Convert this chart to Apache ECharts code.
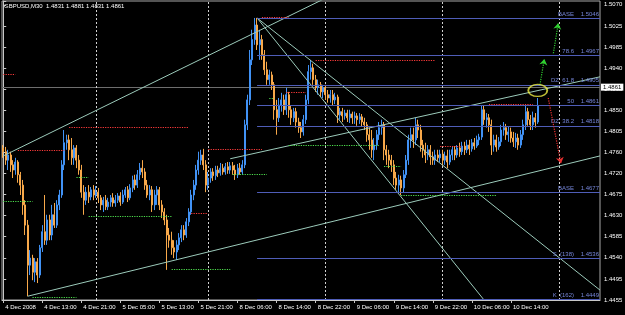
<!DOCTYPE html>
<html>
<head>
<meta charset="utf-8">
<script src="https://cdn.jsdelivr.net/npm/echarts@6/dist/echarts.min.js"></script>
<style>
html,body{margin:0;padding:0;background:#000;}
#main{width:625px;height:315px;}
</style>
</head>
<body>
<div id="main"></div>
<script>
var header = 'GBPUSD,M30  1.4831 1.4881 1.4831 1.4861';

// M30 bars, 4 Dec 05:00 .. 10 Dec 20:30
var opens = [
1.4771,1.4763,1.4745,1.4756,1.4735,1.4724,1.4741,1.4714,1.4692,1.4650,
1.4607,1.4522,1.4537,1.4507,1.4529,1.4501,1.4559,1.4593,1.4575,1.4618,
1.4586,1.4629,1.4607,1.4650,1.4671,1.4735,1.4782,1.4788,1.4767,1.4750,
1.4771,1.4745,1.4724,1.4677,1.4660,1.4677,1.4667,1.4682,1.4671,1.4677,
1.4665,1.4650,1.4660,1.4646,1.4656,1.4665,1.4654,1.4660,1.4669,1.4656,
1.4671,1.4682,1.4665,1.4686,1.4703,1.4692,1.4714,1.4728,1.4720,1.4692,
1.4671,1.4682,1.4650,1.4671,1.4682,1.4650,1.4635,1.4618,1.4586,1.4575,
1.4559,1.4550,1.4565,1.4580,1.4597,1.4586,1.4614,1.4635,1.4671,1.4692,
1.4724,1.4745,1.4756,1.4735,1.4692,1.4707,1.4720,1.4712,1.4724,1.4718,
1.4728,1.4720,1.4731,1.4724,1.4733,1.4724,1.4714,1.4728,1.4720,1.4735,
1.4820,1.4873,1.4958,1.5001,1.5032,1.4990,1.5001,1.4969,1.4937,1.4916,
1.4926,1.4905,1.4852,1.4835,1.4862,1.4873,1.4852,1.4884,1.4852,1.4835,
1.4848,1.4826,1.4814,1.4805,1.4831,1.4873,1.4933,1.4941,1.4916,1.4899,
1.4905,1.4890,1.4899,1.4884,1.4877,1.4884,1.4873,1.4879,1.4841,1.4848,
1.4839,1.4845,1.4835,1.4843,1.4835,1.4839,1.4831,1.4837,1.4826,1.4820,
1.4799,1.4788,1.4767,1.4777,1.4799,1.4814,1.4820,1.4767,1.4756,1.4745,
1.4735,1.4707,1.4692,1.4703,1.4686,1.4714,1.4745,1.4788,1.4799,1.4788,
1.4820,1.4809,1.4777,1.4767,1.4756,1.4767,1.4752,1.4745,1.4756,1.4750,
1.4758,1.4745,1.4754,1.4741,1.4756,1.4767,1.4756,1.4771,1.4763,1.4775,
1.4767,1.4777,1.4769,1.4782,1.4775,1.4788,1.4794,1.4852,1.4831,1.4835,
1.4820,1.4777,1.4788,1.4773,1.4784,1.4809,1.4814,1.4799,1.4805,1.4792,
1.4784,1.4792,1.4777,1.4799,1.4820,1.4848,1.4831,1.4820,1.4835,1.4826
];
var closes = [
1.4763,1.4745,1.4756,1.4735,1.4724,1.4741,1.4714,1.4692,1.4650,1.4607,
1.4522,1.4537,1.4507,1.4529,1.4501,1.4559,1.4593,1.4575,1.4618,1.4586,
1.4629,1.4607,1.4650,1.4671,1.4735,1.4782,1.4788,1.4767,1.4750,1.4771,
1.4745,1.4724,1.4677,1.4660,1.4677,1.4667,1.4682,1.4671,1.4677,1.4665,
1.4650,1.4660,1.4646,1.4656,1.4665,1.4654,1.4660,1.4669,1.4656,1.4671,
1.4682,1.4665,1.4686,1.4703,1.4692,1.4714,1.4728,1.4720,1.4692,1.4671,
1.4682,1.4650,1.4671,1.4682,1.4650,1.4635,1.4618,1.4586,1.4575,1.4559,
1.4550,1.4565,1.4580,1.4597,1.4586,1.4614,1.4635,1.4671,1.4692,1.4724,
1.4745,1.4756,1.4735,1.4692,1.4707,1.4720,1.4712,1.4724,1.4718,1.4728,
1.4720,1.4731,1.4724,1.4733,1.4724,1.4714,1.4728,1.4720,1.4735,1.4820,
1.4873,1.4958,1.5001,1.5032,1.4990,1.5001,1.4969,1.4937,1.4916,1.4926,
1.4905,1.4852,1.4835,1.4862,1.4873,1.4852,1.4884,1.4852,1.4835,1.4848,
1.4826,1.4814,1.4805,1.4831,1.4873,1.4933,1.4941,1.4916,1.4899,1.4905,
1.4890,1.4899,1.4884,1.4877,1.4884,1.4873,1.4879,1.4841,1.4848,1.4839,
1.4845,1.4835,1.4843,1.4835,1.4839,1.4831,1.4837,1.4826,1.4820,1.4799,
1.4788,1.4767,1.4777,1.4799,1.4814,1.4820,1.4767,1.4756,1.4745,1.4735,
1.4707,1.4692,1.4703,1.4686,1.4714,1.4745,1.4788,1.4799,1.4788,1.4820,
1.4809,1.4777,1.4767,1.4756,1.4767,1.4752,1.4745,1.4756,1.4750,1.4758,
1.4745,1.4754,1.4741,1.4756,1.4767,1.4756,1.4771,1.4763,1.4775,1.4767,
1.4777,1.4769,1.4782,1.4775,1.4788,1.4794,1.4852,1.4831,1.4835,1.4820,
1.4777,1.4788,1.4773,1.4784,1.4809,1.4814,1.4799,1.4805,1.4792,1.4784,
1.4792,1.4777,1.4799,1.4820,1.4848,1.4831,1.4820,1.4835,1.4826,1.4861
];
var lows = [
1.4750,1.4735,1.4724,1.4720,1.4707,1.4714,1.4697,1.4671,1.4629,1.4586,
1.4456,1.4501,1.4490,1.4486,1.4484,1.4495,1.4550,1.4565,1.4565,1.4575,
1.4575,1.4601,1.4601,1.4639,1.4665,1.4724,1.4767,1.4745,1.4735,1.4735,
1.4728,1.4714,1.4665,1.4629,1.4650,1.4654,1.4660,1.4660,1.4665,1.4654,
1.4639,1.4635,1.4639,1.4639,1.4646,1.4646,1.4646,1.4654,1.4648,1.4652,
1.4665,1.4656,1.4660,1.4677,1.4682,1.4686,1.4703,1.4707,1.4682,1.4665,
1.4660,1.4635,1.4639,1.4650,1.4639,1.4622,1.4607,1.4512,1.4559,1.4544,
1.4537,1.4533,1.4554,1.4571,1.4575,1.4580,1.4605,1.4629,1.4660,1.4682,
1.4714,1.4735,1.4724,1.4677,1.4682,1.4697,1.4701,1.4703,1.4709,1.4712,
1.4714,1.4714,1.4716,1.4716,1.4714,1.4703,1.4707,1.4714,1.4714,1.4728,
1.4809,1.4862,1.4947,1.4990,1.4979,1.4958,1.4958,1.4926,1.4905,1.4905,
1.4894,1.4831,1.4799,1.4826,1.4848,1.4841,1.4841,1.4835,1.4820,1.4826,
1.4814,1.4803,1.4792,1.4797,1.4822,1.4864,1.4916,1.4905,1.4890,1.4884,
1.4879,1.4877,1.4873,1.4867,1.4867,1.4862,1.4864,1.4824,1.4831,1.4826,
1.4831,1.4826,1.4824,1.4822,1.4822,1.4818,1.4822,1.4816,1.4809,1.4784,
1.4767,1.4750,1.4745,1.4767,1.4788,1.4799,1.4745,1.4735,1.4728,1.4720,
1.4692,1.4682,1.4677,1.4671,1.4677,1.4707,1.4735,1.4771,1.4771,1.4777,
1.4792,1.4763,1.4750,1.4739,1.4745,1.4735,1.4735,1.4735,1.4741,1.4741,
1.4733,1.4735,1.4728,1.4735,1.4745,1.4745,1.4750,1.4752,1.4756,1.4756,
1.4760,1.4756,1.4763,1.4767,1.4771,1.4777,1.4788,1.4820,1.4814,1.4805,
1.4756,1.4763,1.4763,1.4767,1.4775,1.4797,1.4788,1.4784,1.4782,1.4773,
1.4771,1.4767,1.4771,1.4788,1.4809,1.4818,1.4809,1.4809,1.4814,1.4822
];
var highs = [
1.4777,1.4773,1.4767,1.4763,1.4745,1.4750,1.4745,1.4720,1.4703,1.4660,
1.4618,1.4554,1.4544,1.4537,1.4537,1.4565,1.4607,1.4671,1.4629,1.4629,
1.4650,1.4654,1.4660,1.4682,1.4745,1.4809,1.4799,1.4799,1.4792,1.4777,
1.4777,1.4756,1.4735,1.4692,1.4688,1.4692,1.4688,1.4692,1.4690,1.4686,
1.4671,1.4667,1.4671,1.4665,1.4671,1.4675,1.4671,1.4675,1.4677,1.4682,
1.4688,1.4690,1.4694,1.4712,1.4714,1.4724,1.4739,1.4745,1.4728,1.4703,
1.4692,1.4690,1.4682,1.4690,1.4688,1.4660,1.4643,1.4629,1.4601,1.4593,
1.4575,1.4575,1.4590,1.4607,1.4607,1.4622,1.4643,1.4682,1.4703,1.4735,
1.4763,1.4767,1.4769,1.4745,1.4720,1.4728,1.4728,1.4733,1.4733,1.4739,
1.4737,1.4739,1.4741,1.4741,1.4741,1.4735,1.4737,1.4739,1.4745,1.4831,
1.4884,1.4979,1.5022,1.5047,1.5047,1.5022,1.5011,1.4979,1.4954,1.4937,
1.4933,1.4911,1.4873,1.4877,1.4888,1.4884,1.4899,1.4890,1.4862,1.4856,
1.4856,1.4835,1.4826,1.4841,1.4884,1.4947,1.4958,1.4950,1.4926,1.4916,
1.4911,1.4905,1.4905,1.4894,1.4894,1.4894,1.4888,1.4884,1.4856,1.4856,
1.4852,1.4852,1.4852,1.4848,1.4848,1.4845,1.4845,1.4843,1.4835,1.4826,
1.4814,1.4809,1.4792,1.4809,1.4826,1.4831,1.4826,1.4777,1.4767,1.4756,
1.4745,1.4720,1.4714,1.4712,1.4724,1.4756,1.4799,1.4814,1.4814,1.4835,
1.4831,1.4820,1.4788,1.4782,1.4777,1.4777,1.4763,1.4767,1.4767,1.4767,
1.4767,1.4763,1.4767,1.4767,1.4775,1.4775,1.4777,1.4782,1.4784,1.4784,
1.4788,1.4788,1.4790,1.4792,1.4797,1.4801,1.4862,1.4862,1.4845,1.4843,
1.4831,1.4799,1.4799,1.4794,1.4820,1.4826,1.4822,1.4816,1.4814,1.4805,
1.4803,1.4801,1.4809,1.4831,1.4860,1.4856,1.4841,1.4848,1.4845,1.4877
];

var barCount = 245;   // slots on the time axis, incl. empty right margin
var xTickIdx = [0,16,32,48,64,80,96,112,128,144,160,176,192,208];
var xTickText = ['4 Dec 2008','4 Dec 13:00','4 Dec 21:00','5 Dec 05:00','5 Dec 13:00','5 Dec 21:00',
  '8 Dec 06:00','8 Dec 14:00','8 Dec 22:00','9 Dec 06:00','9 Dec 14:00','9 Dec 22:00','10 Dec 06:00','10 Dec 14:00'];
var yTickText = ['1.5070','1.5025','1.4985','1.4940','1.4895','1.4850','1.4805','1.4760',
  '1.4720','1.4675','1.4630','1.4585','1.4540','1.4495','1.4455'];
var yMin = 1.4448, yMax = 1.5083, yStep = 0.0044777;
var bidPrice = 1.4861;

// day separators (bar slots)
var separators = [38, 84, 132, 180, 228];
// trend lines [slot1, price1, slot2, price2]
var trendLines = [
  [0, 1.4754, 134, 1.5094],
  [10, 1.4456, 244.5, 1.4754],
  [93, 1.4748, 244.5, 1.4922],
  [104, 1.5047, 197, 1.4448],
  [104, 1.5047, 244.5, 1.4469]
];
// fibo levels
var fibStart = 104;
var fibLevels = [1.5046, 1.4967, 1.4905, 1.4861, 1.4818, 1.4677, 1.4536, 1.4449];
var fibNames = ['BASE', '78.6', 'DZ  61.8', '50', 'DZ  38.2', 'BASE', 'S  (138)', 'K  (162)'];
// dotted levels [slotFrom, slotTo, price]
var redLevels = [[0,5,1.4928],[6,25,1.4765],[27,76,1.4814],[77,84,1.4633],[84,106,1.4769],
  [106,117,1.5049],[116,124,1.4890],[128,177,1.4958],[179,188,1.4775],[199,217,1.4864]];
var greenLevels = [[0,12,1.4658],[12,30,1.4454],[30,35,1.4709],[35,69,1.4626],[69,93,1.4514],
  [94,108,1.4714],[109,111,1.4877],[117,154,1.4777],[156,163,1.4733],[163,202,1.4671]];
var upArrows = [[219.9, 1.4905, 221.7, 1.4960], [225.4, 1.4972, 227.4, 1.5036]];
var downArrows = [[223.3, 1.4877, 228.5, 1.4738]];
var marker = [219, 1.4893];

var categories = [];
for (var i = 0; i < barCount; i++) categories.push(String(i));
var ohlc = opens.map(function (o, i) { return [o, closes[i], lows[i], highs[i]]; });

function isTick(index) { return xTickIdx.indexOf(index) >= 0; }
function seg(a) { return {coords: [[a[0], a[1]], [a[2], a[3]]]}; }
function level(a) { return {coords: [[a[0], a[2]], [a[1], a[2]]]}; }

var chart = echarts.init(document.getElementById('main'));
chart.setOption({
  backgroundColor: '#000',
  animation: false,
  textStyle: {fontFamily: 'Liberation Sans'},
  graphic: [{
    type: 'text', left: 4, top: 3,
    style: {text: header, fill: '#ffffff', fontSize: 6, fontFamily: 'Liberation Sans'}
  }],
  grid: {left: 2, right: 25, top: 1, bottom: 15, show: true, borderColor: '#a8a8a8', borderWidth: 1,
    outerBoundsMode: 'none'},
  xAxis: [{
    type: 'category', data: categories, boundaryGap: true,
    axisLine: {lineStyle: {color: '#c8c8c8', width: 1}},
    axisTick: {show: true, alignWithLabel: true, interval: isTick, length: 3, lineStyle: {color: '#c8c8c8'}},
    axisLabel: {
      interval: isTick, color: '#ffffff', fontSize: 6, align: 'left', margin: 4, padding: [0, 0, 0, 2],
      formatter: function (v, idx) { var k = xTickIdx.indexOf(idx); return k >= 0 ? xTickText[k] : ''; }
    },
    splitLine: {show: false}
  }, {
    type: 'value', min: -0.5, max: barCount - 0.5, show: false, splitLine: {show: false}
  }],
  yAxis: [{
    type: 'value', position: 'right', min: yMin, max: yMax, interval: yStep, scale: true,
    axisLine: {show: true, lineStyle: {color: '#c8c8c8'}},
    axisTick: {show: true, length: 3, lineStyle: {color: '#c8c8c8'}},
    axisLabel: {
      color: '#ffffff', fontSize: 6, margin: 4,
      formatter: function (v) {
        var k = Math.round((v - yMin) / yStep);
        if (k < 0 || k > 14 || Math.abs(v - (yMin + k * yStep)) > yStep / 10) return '';
        return yTickText[14 - k];
      }
    },
    splitLine: {show: false}
  }],
  series: [
    {
      type: 'lines', coordinateSystem: 'cartesian2d', xAxisIndex: 1, yAxisIndex: 0, z: 1, silent: true,
      lineStyle: {color: '#d0d0d0', width: 1, type: [2, 2], opacity: 1},
      data: separators.map(function (s) { return {coords: [[s, yMin], [s, yMax]]}; })
    },
    {
      type: 'candlestick', xAxisIndex: 0, yAxisIndex: 0, z: 2,
      data: ohlc, barWidth: 1.5,
      itemStyle: {color: '#4192f5', color0: '#f7a84a', borderColor: '#4192f5', borderColor0: '#f7a84a', borderWidth: 1},
      markLine: {
        silent: true, symbol: ['none', 'none'], z: 1,
        lineStyle: {color: '#6e6e6e', type: 'solid', width: 1},
        label: {show: true, position: 'end', distance: 1, formatter: bidPrice.toFixed(4),
          color: '#000', backgroundColor: '#ffffff', padding: [1, 2, 0, 2], fontSize: 6},
        data: [{yAxis: bidPrice}]
      }
    },
    {
      type: 'lines', coordinateSystem: 'cartesian2d', xAxisIndex: 1, yAxisIndex: 0, z: 3, silent: true, clip: true,
      lineStyle: {color: '#9ccbbb', width: 1, opacity: 1},
      data: trendLines.map(seg)
    },
    {
      type: 'lines', coordinateSystem: 'cartesian2d', xAxisIndex: 1, yAxisIndex: 0, z: 3, silent: true, clip: true,
      lineStyle: {color: '#4f5db8', width: 1, opacity: 1},
      label: {
        show: true, position: 'insideEndTop', distance: 1, color: '#7585d8', fontSize: 6,
        formatter: function (p) { return fibNames[p.dataIndex] + '    ' + fibLevels[p.dataIndex].toFixed(4); }
      },
      data: fibLevels.map(function (v) { return {coords: [[fibStart, v], [barCount - 0.5, v]]}; })
    },
    {
      type: 'lines', coordinateSystem: 'cartesian2d', xAxisIndex: 1, yAxisIndex: 0, z: 4, silent: true,
      lineStyle: {color: '#ff3a3a', width: 1.2, type: 'dotted', opacity: 1},
      data: redLevels.map(level)
    },
    {
      type: 'lines', coordinateSystem: 'cartesian2d', xAxisIndex: 1, yAxisIndex: 0, z: 4, silent: true,
      lineStyle: {color: '#4ee04e', width: 1.2, type: 'dotted', opacity: 1},
      data: greenLevels.map(level)
    },
    {
      type: 'lines', coordinateSystem: 'cartesian2d', xAxisIndex: 1, yAxisIndex: 0, z: 5, silent: true,
      symbol: ['none', 'arrow'], symbolSize: 6,
      lineStyle: {color: '#30d030', width: 1.2, type: 'dotted', opacity: 1},
      data: upArrows.map(seg)
    },
    {
      type: 'lines', coordinateSystem: 'cartesian2d', xAxisIndex: 1, yAxisIndex: 0, z: 5, silent: true,
      symbol: ['none', 'arrow'], symbolSize: 6,
      lineStyle: {color: '#e83030', width: 1.2, type: 'dotted', opacity: 1},
      data: downArrows.map(seg)
    },
    {
      type: 'scatter', xAxisIndex: 1, yAxisIndex: 0, z: 6, silent: true,
      symbol: 'circle', symbolSize: [19, 12],
      itemStyle: {color: 'rgba(0,0,0,0)', borderColor: '#eeee44', borderWidth: 1.5},
      data: [marker]
    }
  ]
});
</script>
</body>
</html>
